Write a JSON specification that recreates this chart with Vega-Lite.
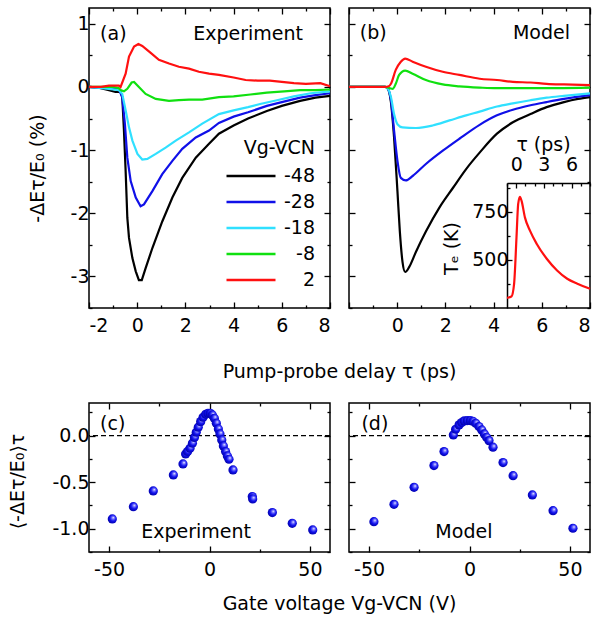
{
"$schema": "https://vega.github.io/schema/vega-lite/v6.json",
"padding": {"left": 7, "top": 6, "right": 5, "bottom": 5},
"config": {
  "font": "DejaVu Sans",
  "view": {"stroke": "black", "strokeWidth": 1.5},
  "axis": {"domain": false, "grid": false, "tickColor": "black", "tickWidth": 1.3, "tickSize": -5, "labelFontSize": 19, "labelColor": "black", "labelFont": "DejaVu Sans", "titleFont": "DejaVu Sans", "titleFontSize": 19, "titleFontWeight": "normal", "titleColor": "black", "labelPadding": 14},
  "axisY": {"labelPadding": 6},
  "text": {"fontSize": 19, "font": "DejaVu Sans", "color": "black"}
},
"datasets": {
  "exp": [
    {"Vg":"-48","t":-2,"v":0},{"Vg":"-48","t":-1.6,"v":-0.01},{"Vg":"-48","t":-1.17,"v":-0.05},{"Vg":"-48","t":-0.9,"v":-0.08},{"Vg":"-48","t":-0.69,"v":-0.08},{"Vg":"-48","t":-0.62,"v":-0.16},{"Vg":"-48","t":-0.55,"v":-0.69},{"Vg":"-48","t":-0.48,"v":-1.33},{"Vg":"-48","t":-0.41,"v":-2.07},{"Vg":"-48","t":-0.34,"v":-2.39},{"Vg":"-48","t":-0.2,"v":-2.71},{"Vg":"-48","t":-0.06,"v":-2.92},{"Vg":"-48","t":0.07,"v":-3.06},{"Vg":"-48","t":0.19,"v":-3.06},{"Vg":"-48","t":0.35,"v":-2.87},{"Vg":"-48","t":0.63,"v":-2.55},{"Vg":"-48","t":1.04,"v":-2.13},{"Vg":"-48","t":1.46,"v":-1.75},{"Vg":"-48","t":1.87,"v":-1.44},{"Vg":"-48","t":2.43,"v":-1.12},{"Vg":"-48","t":2.98,"v":-0.9},{"Vg":"-48","t":3.39,"v":-0.74},{"Vg":"-48","t":4.0,"v":-0.61},{"Vg":"-48","t":4.6,"v":-0.5},{"Vg":"-48","t":5.38,"v":-0.38},{"Vg":"-48","t":6.0,"v":-0.3},{"Vg":"-48","t":6.76,"v":-0.22},{"Vg":"-48","t":7.4,"v":-0.17},{"Vg":"-48","t":8,"v":-0.14},
    {"Vg":"-28","t":-2,"v":0},{"Vg":"-28","t":-1.2,"v":-0.02},{"Vg":"-28","t":-0.76,"v":-0.04},{"Vg":"-28","t":-0.62,"v":-0.16},{"Vg":"-28","t":-0.51,"v":-0.59},{"Vg":"-28","t":-0.41,"v":-1.12},{"Vg":"-28","t":-0.27,"v":-1.49},{"Vg":"-28","t":-0.06,"v":-1.75},{"Vg":"-28","t":0.14,"v":-1.89},{"Vg":"-28","t":0.28,"v":-1.86},{"Vg":"-28","t":0.63,"v":-1.65},{"Vg":"-28","t":1.04,"v":-1.38},{"Vg":"-28","t":1.46,"v":-1.17},{"Vg":"-28","t":1.87,"v":-0.98},{"Vg":"-28","t":2.43,"v":-0.8},{"Vg":"-28","t":2.98,"v":-0.69},{"Vg":"-28","t":3.39,"v":-0.57},{"Vg":"-28","t":4.0,"v":-0.47},{"Vg":"-28","t":4.6,"v":-0.4},{"Vg":"-28","t":5.38,"v":-0.3},{"Vg":"-28","t":6.0,"v":-0.24},{"Vg":"-28","t":6.76,"v":-0.17},{"Vg":"-28","t":7.4,"v":-0.13},{"Vg":"-28","t":8,"v":-0.1},
    {"Vg":"-18","t":-2,"v":0},{"Vg":"-18","t":-1.17,"v":-0.03},{"Vg":"-18","t":-0.76,"v":-0.05},{"Vg":"-18","t":-0.62,"v":-0.11},{"Vg":"-18","t":-0.48,"v":-0.37},{"Vg":"-18","t":-0.34,"v":-0.64},{"Vg":"-18","t":-0.2,"v":-0.85},{"Vg":"-18","t":0.01,"v":-1.06},{"Vg":"-18","t":0.21,"v":-1.15},{"Vg":"-18","t":0.42,"v":-1.14},{"Vg":"-18","t":0.77,"v":-1.06},{"Vg":"-18","t":1.18,"v":-0.96},{"Vg":"-18","t":1.6,"v":-0.85},{"Vg":"-18","t":2.15,"v":-0.72},{"Vg":"-18","t":2.7,"v":-0.58},{"Vg":"-18","t":3.39,"v":-0.43},{"Vg":"-18","t":4.0,"v":-0.37},{"Vg":"-18","t":4.6,"v":-0.32},{"Vg":"-18","t":5.1,"v":-0.27},{"Vg":"-18","t":5.8,"v":-0.21},{"Vg":"-18","t":6.5,"v":-0.15},{"Vg":"-18","t":7.2,"v":-0.1},{"Vg":"-18","t":8,"v":-0.07},
    {"Vg":"-8","t":-2,"v":0},{"Vg":"-8","t":-1.0,"v":0},{"Vg":"-8","t":-0.76,"v":-0.02},{"Vg":"-8","t":-0.69,"v":-0.05},{"Vg":"-8","t":-0.55,"v":-0.07},{"Vg":"-8","t":-0.41,"v":-0.03},{"Vg":"-8","t":-0.23,"v":0.07},{"Vg":"-8","t":-0.13,"v":0.08},{"Vg":"-8","t":0.07,"v":0},{"Vg":"-8","t":0.35,"v":-0.11},{"Vg":"-8","t":0.77,"v":-0.19},{"Vg":"-8","t":1.32,"v":-0.22},{"Vg":"-8","t":1.73,"v":-0.21},{"Vg":"-8","t":2.15,"v":-0.2},{"Vg":"-8","t":2.7,"v":-0.2},{"Vg":"-8","t":3.39,"v":-0.16},{"Vg":"-8","t":4.0,"v":-0.15},{"Vg":"-8","t":4.7,"v":-0.12},{"Vg":"-8","t":5.38,"v":-0.09},{"Vg":"-8","t":6.1,"v":-0.07},{"Vg":"-8","t":6.76,"v":-0.05},{"Vg":"-8","t":7.4,"v":-0.05},{"Vg":"-8","t":8,"v":-0.04},
    {"Vg":"2","t":-2,"v":0},{"Vg":"2","t":-1.5,"v":0},{"Vg":"2","t":-1.17,"v":0.02},{"Vg":"2","t":-0.76,"v":0.02},{"Vg":"2","t":-0.69,"v":0},{"Vg":"2","t":-0.48,"v":0.21},{"Vg":"2","t":-0.34,"v":0.48},{"Vg":"2","t":-0.13,"v":0.64},{"Vg":"2","t":0.05,"v":0.68},{"Vg":"2","t":0.21,"v":0.65},{"Vg":"2","t":0.56,"v":0.54},{"Vg":"2","t":0.9,"v":0.43},{"Vg":"2","t":1.32,"v":0.37},{"Vg":"2","t":1.73,"v":0.32},{"Vg":"2","t":2.15,"v":0.29},{"Vg":"2","t":2.56,"v":0.24},{"Vg":"2","t":2.98,"v":0.21},{"Vg":"2","t":3.39,"v":0.19},{"Vg":"2","t":4.0,"v":0.15},{"Vg":"2","t":4.5,"v":0.11},{"Vg":"2","t":5.0,"v":0.1},{"Vg":"2","t":5.5,"v":0.1},{"Vg":"2","t":6.0,"v":0.08},{"Vg":"2","t":6.5,"v":0.06},{"Vg":"2","t":7.0,"v":0.05},{"Vg":"2","t":7.6,"v":0.06},{"Vg":"2","t":8,"v":0.01}
  ],
  "model": [
    {"Vg":"-48","t":-2,"v":0},{"Vg":"-48","t":-0.5,"v":0},{"Vg":"-48","t":-0.4,"v":-0.02},{"Vg":"-48","t":-0.26,"v":-0.24},{"Vg":"-48","t":-0.13,"v":-0.8},{"Vg":"-48","t":0.01,"v":-1.65},{"Vg":"-48","t":0.11,"v":-2.29},{"Vg":"-48","t":0.22,"v":-2.77},{"Vg":"-48","t":0.33,"v":-2.93},{"Vg":"-48","t":0.5,"v":-2.85},{"Vg":"-48","t":0.78,"v":-2.61},{"Vg":"-48","t":1.19,"v":-2.29},{"Vg":"-48","t":1.75,"v":-1.91},{"Vg":"-48","t":2.31,"v":-1.6},{"Vg":"-48","t":2.86,"v":-1.3},{"Vg":"-48","t":3.42,"v":-1.04},{"Vg":"-48","t":4.14,"v":-0.74},{"Vg":"-48","t":4.8,"v":-0.56},{"Vg":"-48","t":5.53,"v":-0.43},{"Vg":"-48","t":6.2,"v":-0.32},{"Vg":"-48","t":6.92,"v":-0.24},{"Vg":"-48","t":7.5,"v":-0.19},{"Vg":"-48","t":8,"v":-0.16},
    {"Vg":"-28","t":-2,"v":0},{"Vg":"-28","t":-0.5,"v":0},{"Vg":"-28","t":-0.4,"v":-0.02},{"Vg":"-28","t":-0.26,"v":-0.21},{"Vg":"-28","t":-0.13,"v":-0.69},{"Vg":"-28","t":0.01,"v":-1.17},{"Vg":"-28","t":0.15,"v":-1.44},{"Vg":"-28","t":0.36,"v":-1.48},{"Vg":"-28","t":0.64,"v":-1.41},{"Vg":"-28","t":1.19,"v":-1.22},{"Vg":"-28","t":1.89,"v":-1.01},{"Vg":"-28","t":2.58,"v":-0.82},{"Vg":"-28","t":3.42,"v":-0.6},{"Vg":"-28","t":4.14,"v":-0.45},{"Vg":"-28","t":4.8,"v":-0.36},{"Vg":"-28","t":5.53,"v":-0.29},{"Vg":"-28","t":6.2,"v":-0.24},{"Vg":"-28","t":6.92,"v":-0.19},{"Vg":"-28","t":8,"v":-0.13},
    {"Vg":"-18","t":-2,"v":0},{"Vg":"-18","t":-0.5,"v":0},{"Vg":"-18","t":-0.4,"v":-0.02},{"Vg":"-18","t":-0.26,"v":-0.16},{"Vg":"-18","t":-0.13,"v":-0.43},{"Vg":"-18","t":0.01,"v":-0.59},{"Vg":"-18","t":0.22,"v":-0.64},{"Vg":"-18","t":0.78,"v":-0.65},{"Vg":"-18","t":1.47,"v":-0.61},{"Vg":"-18","t":2.17,"v":-0.53},{"Vg":"-18","t":2.86,"v":-0.45},{"Vg":"-18","t":3.42,"v":-0.39},{"Vg":"-18","t":4.14,"v":-0.31},{"Vg":"-18","t":4.8,"v":-0.26},{"Vg":"-18","t":5.53,"v":-0.21},{"Vg":"-18","t":6.2,"v":-0.17},{"Vg":"-18","t":6.92,"v":-0.14},{"Vg":"-18","t":8,"v":-0.1},
    {"Vg":"-8","t":-2,"v":0},{"Vg":"-8","t":-0.5,"v":0},{"Vg":"-8","t":-0.3,"v":-0.02},{"Vg":"-8","t":-0.19,"v":-0.03},{"Vg":"-8","t":-0.06,"v":0.05},{"Vg":"-8","t":0.08,"v":0.19},{"Vg":"-8","t":0.33,"v":0.26},{"Vg":"-8","t":0.64,"v":0.21},{"Vg":"-8","t":1.19,"v":0.11},{"Vg":"-8","t":1.89,"v":0.04},{"Vg":"-8","t":2.58,"v":0.01},{"Vg":"-8","t":3.42,"v":-0.01},{"Vg":"-8","t":4.14,"v":-0.02},{"Vg":"-8","t":5.5,"v":-0.02},{"Vg":"-8","t":8,"v":-0.01},
    {"Vg":"2","t":-2,"v":0},{"Vg":"2","t":-0.5,"v":0},{"Vg":"2","t":-0.35,"v":0.01},{"Vg":"2","t":-0.26,"v":0.05},{"Vg":"2","t":-0.06,"v":0.27},{"Vg":"2","t":0.15,"v":0.4},{"Vg":"2","t":0.33,"v":0.45},{"Vg":"2","t":0.64,"v":0.4},{"Vg":"2","t":1.19,"v":0.32},{"Vg":"2","t":1.89,"v":0.24},{"Vg":"2","t":2.58,"v":0.19},{"Vg":"2","t":3.42,"v":0.13},{"Vg":"2","t":4.14,"v":0.11},{"Vg":"2","t":4.8,"v":0.08},{"Vg":"2","t":5.53,"v":0.07},{"Vg":"2","t":6.2,"v":0.05},{"Vg":"2","t":6.92,"v":0.04},{"Vg":"2","t":8,"v":0.03}
  ],
  "te": [
    {"t":-1,"T":303},{"t":-0.52,"T":310},{"t":-0.23,"T":376},{"t":0.03,"T":617},{"t":0.21,"T":790},{"t":0.4,"T":828},{"t":0.58,"T":807},{"t":0.95,"T":720},{"t":1.49,"T":652},{"t":2.23,"T":583},{"t":3.33,"T":505},{"t":4.43,"T":445},{"t":5.53,"T":402},{"t":6.63,"T":376},{"t":8,"T":350}
  ],
  "dotsExp": [
    {"V":-48.4,"d":-0.895},{"V":-37.9,"d":-0.763},{"V":-28,"d":-0.594},{"V":-18,"d":-0.422},{"V":-13.2,"d":-0.304},{"V":-11.9,"d":-0.197},{"V":-10.9,"d":-0.17},{"V":-9.7,"d":-0.136},{"V":-8.5,"d":-0.082},{"V":-7.5,"d":-0.02},{"V":-6.6,"d":0.036},{"V":-5.6,"d":0.09},{"V":-4.4,"d":0.15},{"V":-3.2,"d":0.197},{"V":-1.9,"d":0.229},{"V":-0.75,"d":0.24},{"V":0.4,"d":0.24},{"V":1.4,"d":0.222},{"V":2.4,"d":0.186},{"V":3.4,"d":0.132},{"V":4.4,"d":0.072},{"V":5.2,"d":0.018},{"V":6.1,"d":-0.047},{"V":6.9,"d":-0.111},{"V":8.0,"d":-0.172},{"V":8.9,"d":-0.218},{"V":9.7,"d":-0.254},{"V":11.7,"d":-0.369},{"V":21.3,"d":-0.655},{"V":21.5,"d":-0.68},{"V":31.3,"d":-0.827},{"V":41.2,"d":-0.942},{"V":51.4,"d":-1.013}
  ],
  "dotsModel": [
    {"V":-47.6,"d":-0.924},{"V":-37.6,"d":-0.738},{"V":-27.6,"d":-0.555},{"V":-17.7,"d":-0.322},{"V":-12.7,"d":-0.172},{"V":-8.05,"d":0.007},{"V":-6.9,"d":0.068},{"V":-5.2,"d":0.115},{"V":-3.9,"d":0.14},{"V":-2.6,"d":0.158},{"V":-1.1,"d":0.161},{"V":0.4,"d":0.161},{"V":1.7,"d":0.154},{"V":3.1,"d":0.132},{"V":4.7,"d":0.097},{"V":6.1,"d":0.061},{"V":7.4,"d":0.018},{"V":8.5,"d":-0.018},{"V":9.7,"d":-0.054},{"V":11.7,"d":-0.125},{"V":16.7,"d":-0.29},{"V":21.7,"d":-0.43},{"V":31.3,"d":-0.637},{"V":41.6,"d":-0.806},{"V":51.5,"d":-0.995}
  ]
},
"columns": 2,
"bounds": "flush",
"spacing": {"row": 95, "column": 19},
"resolve": {"scale": {"color": "independent"}, "legend": {"color": "independent"}},
"concat": [
  {
    "width": 241, "height": 300,
    "layer": [
      {
        "data": {"name": "exp"},
        "mark": {"type": "line", "strokeWidth": 2.2},
        "encoding": {
          "x": {"field": "t", "type": "quantitative", "scale": {"domain": [-2, 8], "nice": false, "zero": false},
            "axis": {"values": [-2,-1,0,1,2,3,4,5,6,7,8], "labelExpr": "datum.value % 2 === 0 ? '' + datum.value : ''", "tickSize": {"condition": {"test": "datum.value % 2 === 0", "value": -6}, "value": -3}, "title": "Pump-probe delay τ (ps)", "titleX": 250, "titleY": 63, "titleBaseline": "middle"}},
          "y": {"field": "v", "type": "quantitative", "scale": {"domain": [-3.5, 1.25], "nice": false, "zero": false},
            "axis": {"values": [-3.5,-3,-2.5,-2,-1.5,-1,-0.5,0,0.5,1], "labelExpr": "datum.value % 1 === 0 ? '' + datum.value : ''", "tickSize": {"condition": {"test": "datum.value % 1 === 0", "value": -6}, "value": -3}, "title": "-ΔEτ/E₀ (%)", "titleX": -52, "titleY": 160, "titleBaseline": "middle"}},
          "color": {"field": "Vg", "type": "nominal", "scale": {"domain": ["-48","-28","-18","-8","2"], "range": ["#000000","#1010e8","#30e0ff","#10e010","#ff1010"]},
            "legend": {"orient": "none", "legendX": 136, "legendY": 131, "title": "Vg-VCN", "titleFontSize": 19, "titleFont": "DejaVu Sans", "titleFontWeight": "normal", "titleColor": "black", "titleAnchor": "end", "titlePadding": 8, "symbolType": "stroke", "symbolSize": 2401, "symbolStrokeWidth": 2.5, "clipHeight": 20, "rowPadding": 6, "labelFontSize": 19, "labelFont": "DejaVu Sans", "labelColor": "black", "labelAlign": "right", "labelOffset": 38, "padding": 0}}
        }
      },
      {
        "data": {"name": "exp"},
        "mark": {"type": "line", "opacity": 0},
        "encoding": {
          "x": {"field": "t", "type": "quantitative", "scale": {"domain": [-2, 8], "nice": false, "zero": false},
            "axis": {"orient": "top", "values": [-2,-1,0,1,2,3,4,5,6,7,8], "labels": false, "title": null, "tickSize": {"condition": {"test": "datum.value % 2 === 0", "value": -6}, "value": -3}}},
          "y": {"field": "v", "type": "quantitative", "scale": {"domain": [-3.5, 1.25], "nice": false, "zero": false},
            "axis": {"orient": "right", "values": [-3.5,-3,-2.5,-2,-1.5,-1,-0.5,0,0.5,1], "labels": false, "title": null, "tickSize": {"condition": {"test": "datum.value % 1 === 0", "value": -6}, "value": -3}}}
        }
      },
      {
        "data": {"values": [{}]},
        "mark": {"type": "text", "align": "left", "baseline": "middle"},
        "encoding": {"x": {"datum": -1.54, "type": "quantitative", "axis": null}, "y": {"datum": 0.84, "type": "quantitative", "axis": null}, "text": {"value": "(a)"}}
      },
      {
        "data": {"values": [{}]},
        "mark": {"type": "text", "align": "right", "baseline": "middle"},
        "encoding": {"x": {"datum": 6.88, "type": "quantitative", "axis": null}, "y": {"datum": 0.84, "type": "quantitative", "axis": null}, "text": {"value": "Experiment"}}
      }
    ],
    "resolve": {"axis": {"x": "independent", "y": "independent"}}
  },
  {
    "width": 241, "height": 300,
    "layer": [
      {
        "data": {"name": "model"},
        "mark": {"type": "line", "strokeWidth": 2.2, "interpolate": "monotone"},
        "encoding": {
          "x": {"field": "t", "type": "quantitative", "scale": {"domain": [-2, 8], "nice": false, "zero": false},
            "axis": {"values": [-2,-1,0,1,2,3,4,5,6,7,8], "labelExpr": "datum.value % 2 === 0 && datum.value > -2 ? '' + datum.value : ''", "tickSize": {"condition": {"test": "datum.value % 2 === 0", "value": -6}, "value": -3}, "title": null}},
          "y": {"field": "v", "type": "quantitative", "scale": {"domain": [-3.5, 1.25], "nice": false, "zero": false},
            "axis": {"values": [-3.5,-3,-2.5,-2,-1.5,-1,-0.5,0,0.5,1], "labels": false, "title": null, "tickSize": {"condition": {"test": "datum.value % 1 === 0", "value": -6}, "value": -3}}},
          "color": {"field": "Vg", "type": "nominal", "scale": {"domain": ["-48","-28","-18","-8","2"], "range": ["#000000","#1010e8","#30e0ff","#10e010","#ff1010"]}, "legend": null}
        }
      },
      {
        "data": {"name": "model"},
        "mark": {"type": "line", "opacity": 0},
        "encoding": {
          "x": {"field": "t", "type": "quantitative", "scale": {"domain": [-2, 8], "nice": false, "zero": false},
            "axis": {"orient": "top", "values": [-2,-1,0,1,2,3,4,5,6,7,8], "labels": false, "title": null, "tickSize": {"condition": {"test": "datum.value % 2 === 0", "value": -6}, "value": -3}}},
          "y": {"field": "v", "type": "quantitative", "scale": {"domain": [-3.5, 1.25], "nice": false, "zero": false},
            "axis": {"orient": "right", "values": [-3.5,-3,-2.5,-2,-1.5,-1,-0.5,0,0.5,1], "labels": false, "title": null, "tickSize": {"condition": {"test": "datum.value % 1 === 0", "value": -6}, "value": -3}}}
        }
      },
      {
        "data": {"name": "te"},
        "mark": {"type": "line", "strokeWidth": 2.2, "color": "#ff1010", "interpolate": "monotone"},
        "encoding": {
          "x": {"field": "t", "type": "quantitative", "scale": {"domain": [-1, 8], "range": [158, 241], "nice": false, "zero": false},
            "axis": {"orient": "top", "offset": -175, "domain": true, "domainColor": "black", "domainWidth": 1.5, "values": [-1,0,1,2,3,4,5,6,7,8], "labelExpr": "datum.value % 3 === 0 ? '' + datum.value : ''", "labelPadding": 14, "tickSize": {"condition": {"test": "datum.value % 3 === 0", "value": -5}, "value": -3}, "title": "τ (ps)", "titleX": 194, "titleY": -39, "titleBaseline": "middle"}},
          "y": {"field": "T", "type": "quantitative", "scale": {"domain": [250, 900], "range": [300, 175], "nice": false, "zero": false},
            "axis": {"orient": "left", "offset": -158, "domain": true, "domainColor": "black", "domainWidth": 1.5, "values": [375, 500, 625, 750, 875], "labelExpr": "datum.value % 250 === 0 ? '' + datum.value : ''", "labelPadding": 4, "tickSize": {"condition": {"test": "datum.value % 250 === 0", "value": -5}, "value": -3}, "title": "Tₑ (K)", "titleX": -56, "titleY": 240, "titleBaseline": "middle"}}
        }
      },
      {
        "data": {"values": [{}]},
        "mark": {"type": "text", "align": "left", "baseline": "middle"},
        "encoding": {"x": {"datum": -1.55, "type": "quantitative", "scale": {"domain": [-2, 8]}, "axis": null}, "y": {"datum": 0.85, "type": "quantitative", "scale": {"domain": [-3.5, 1.25]}, "axis": null}, "text": {"value": "(b)"}}
      },
      {
        "data": {"values": [{}]},
        "mark": {"type": "text", "align": "right", "baseline": "middle"},
        "encoding": {"x": {"datum": 7.17, "type": "quantitative", "scale": {"domain": [-2, 8]}, "axis": null}, "y": {"datum": 0.85, "type": "quantitative", "scale": {"domain": [-3.5, 1.25]}, "axis": null}, "text": {"value": "Model"}}
      }
    ],
    "resolve": {"scale": {"x": "independent", "y": "independent"}, "axis": {"x": "independent", "y": "independent"}}
  },
  {
    "width": 241, "height": 149,
    "layer": [
      {
        "data": {"values": [{}]},
        "mark": {"type": "rule", "strokeDash": [5, 3], "strokeWidth": 1.3, "color": "black"},
        "encoding": {"y": {"datum": 0, "type": "quantitative", "axis": null}}
      },
      {
        "data": {"name": "dotsExp"},
        "mark": {"type": "point", "shape": "circle", "filled": true, "size": 85, "opacity": 1, "strokeWidth": 0,
          "fill": {"gradient": "radial", "x1": 0.62, "y1": 0.35, "r1": 0, "x2": 0.55, "y2": 0.45, "r2": 0.6, "stops": [{"offset": 0, "color": "#ffffff"}, {"offset": 0.22, "color": "#7a7aff"}, {"offset": 0.55, "color": "#1010ee"}, {"offset": 1, "color": "#0000a0"}]}},
        "encoding": {
          "x": {"field": "V", "type": "quantitative", "scale": {"domain": [-60, 60], "nice": false, "zero": false},
            "axis": {"values": [-50,-25,0,25,50], "labelExpr": "datum.value % 50 === 0 ? '' + datum.value : ''", "tickSize": {"condition": {"test": "datum.value % 50 === 0", "value": -6}, "value": -3}, "title": "Gate voltage Vg-VCN (V)", "titleX": 250, "titleY": 51, "titleBaseline": "middle"}},
          "y": {"field": "d", "type": "quantitative", "scale": {"domain": [-1.25, 0.35], "nice": false, "zero": false},
            "axis": {"values": [-1.25,-1,-0.75,-0.5,-0.25,0,0.25], "labelExpr": "datum.value === 0 ? '0.0' : datum.value === -0.5 ? '-0.5' : datum.value === -1 ? '-1.0' : ''", "tickSize": {"condition": {"test": "datum.value % 0.5 === 0", "value": -6}, "value": -3}, "title": "⟨-ΔEτ/E₀⟩τ", "titleX": -72, "titleY": 78, "titleBaseline": "middle"}}
        }
      },
      {
        "data": {"name": "dotsExp"},
        "mark": {"type": "point", "opacity": 0},
        "encoding": {
          "x": {"field": "V", "type": "quantitative", "scale": {"domain": [-60, 60], "nice": false, "zero": false},
            "axis": {"orient": "top", "values": [-50,-25,0,25,50], "labels": false, "title": null, "tickSize": {"condition": {"test": "datum.value % 50 === 0", "value": -6}, "value": -3}}},
          "y": {"field": "d", "type": "quantitative", "scale": {"domain": [-1.25, 0.35], "nice": false, "zero": false},
            "axis": {"orient": "right", "values": [-1.25,-1,-0.75,-0.5,-0.25,0,0.25], "labels": false, "title": null, "tickSize": {"condition": {"test": "datum.value % 0.5 === 0", "value": -6}, "value": -3}}}
        }
      },
      {
        "data": {"values": [{}]},
        "mark": {"type": "text", "align": "left", "baseline": "middle"},
        "encoding": {"x": {"datum": -54.5, "type": "quantitative", "axis": null}, "y": {"datum": 0.125, "type": "quantitative", "axis": null}, "text": {"value": "(c)"}}
      },
      {
        "data": {"values": [{}]},
        "mark": {"type": "text", "align": "center", "baseline": "middle"},
        "encoding": {"x": {"datum": -6.7, "type": "quantitative", "axis": null}, "y": {"datum": -1.04, "type": "quantitative", "axis": null}, "text": {"value": "Experiment"}}
      }
    ],
    "resolve": {"axis": {"x": "independent", "y": "independent"}}
  },
  {
    "width": 241, "height": 149,
    "layer": [
      {
        "data": {"values": [{}]},
        "mark": {"type": "rule", "strokeDash": [5, 3], "strokeWidth": 1.3, "color": "black"},
        "encoding": {"y": {"datum": 0, "type": "quantitative", "axis": null}}
      },
      {
        "data": {"name": "dotsModel"},
        "mark": {"type": "point", "shape": "circle", "filled": true, "size": 85, "opacity": 1, "strokeWidth": 0,
          "fill": {"gradient": "radial", "x1": 0.62, "y1": 0.35, "r1": 0, "x2": 0.55, "y2": 0.45, "r2": 0.6, "stops": [{"offset": 0, "color": "#ffffff"}, {"offset": 0.22, "color": "#7a7aff"}, {"offset": 0.55, "color": "#1010ee"}, {"offset": 1, "color": "#0000a0"}]}},
        "encoding": {
          "x": {"field": "V", "type": "quantitative", "scale": {"domain": [-60, 60], "nice": false, "zero": false},
            "axis": {"values": [-50,-25,0,25,50], "labelExpr": "datum.value % 50 === 0 ? '' + datum.value : ''", "tickSize": {"condition": {"test": "datum.value % 50 === 0", "value": -6}, "value": -3}, "title": null}},
          "y": {"field": "d", "type": "quantitative", "scale": {"domain": [-1.25, 0.35], "nice": false, "zero": false},
            "axis": {"values": [-1.25,-1,-0.75,-0.5,-0.25,0,0.25], "labels": false, "title": null, "tickSize": {"condition": {"test": "datum.value % 0.5 === 0", "value": -6}, "value": -3}}}
        }
      },
      {
        "data": {"name": "dotsModel"},
        "mark": {"type": "point", "opacity": 0},
        "encoding": {
          "x": {"field": "V", "type": "quantitative", "scale": {"domain": [-60, 60], "nice": false, "zero": false},
            "axis": {"orient": "top", "values": [-50,-25,0,25,50], "labels": false, "title": null, "tickSize": {"condition": {"test": "datum.value % 50 === 0", "value": -6}, "value": -3}}},
          "y": {"field": "d", "type": "quantitative", "scale": {"domain": [-1.25, 0.35], "nice": false, "zero": false},
            "axis": {"orient": "right", "values": [-1.25,-1,-0.75,-0.5,-0.25,0,0.25], "labels": false, "title": null, "tickSize": {"condition": {"test": "datum.value % 0.5 === 0", "value": -6}, "value": -3}}}
        }
      },
      {
        "data": {"values": [{}]},
        "mark": {"type": "text", "align": "left", "baseline": "middle"},
        "encoding": {"x": {"datum": -53.8, "type": "quantitative", "axis": null}, "y": {"datum": 0.125, "type": "quantitative", "axis": null}, "text": {"value": "(d)"}}
      },
      {
        "data": {"values": [{}]},
        "mark": {"type": "text", "align": "center", "baseline": "middle"},
        "encoding": {"x": {"datum": -2.8, "type": "quantitative", "axis": null}, "y": {"datum": -1.04, "type": "quantitative", "axis": null}, "text": {"value": "Model"}}
      }
    ],
    "resolve": {"axis": {"x": "independent", "y": "independent"}}
  }
]
}
